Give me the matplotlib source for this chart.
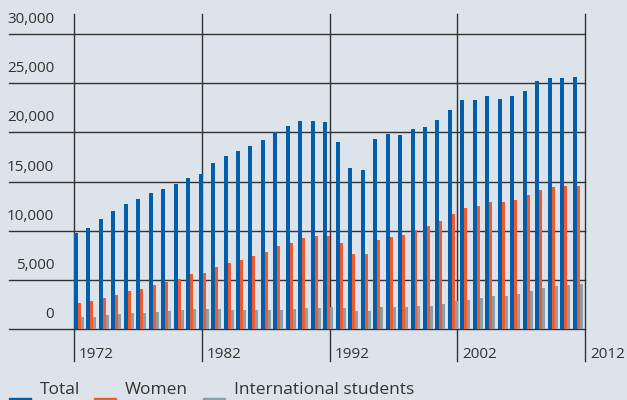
import numpy as np
import matplotlib
import matplotlib.pyplot as plt
from matplotlib.patches import Rectangle

matplotlib.use("agg")
plt.rcParams['font.family'] = ['Open Sans', 'DejaVu Sans']

# Students per year, 1972 - 2012
years = list(range(1972, 2013))
total = [9800, 10280, 11200, 12000, 12720, 13220, 13840, 14240, 14750, 15360,
         15760, 16880, 17590, 18100, 18600, 19220, 20020, 20640, 21140, 21140,
         21040, 19010, 16370, 16170, 19320, 19820, 19720, 20330, 20530, 21240,
         22260, 23280, 23280, 23680, 23380, 23680, 24190, 25200, 25510, 25510,
         25610]
women = [2670, 2870, 3180, 3480, 3890, 4090, 4500, 4800, 5110, 5610,
         5720, 6320, 6730, 7030, 7440, 7850, 8460, 8760, 9270, 9470,
         9470, 8760, 7640, 7640, 9060, 9370, 9570, 10080, 10480, 10990,
         11700, 12310, 12510, 12920, 12920, 13120, 13630, 14140, 14440, 14540,
         14540]
intl = [1250, 1250, 1450, 1550, 1650, 1650, 1760, 1860, 1960, 2060,
        2060, 2060, 1960, 1960, 1960, 1960, 1960, 2060, 2160, 2160,
        2260, 2160, 1860, 1860, 2260, 2260, 2260, 2370, 2370, 2570,
        2870, 2970, 3180, 3380, 3380, 3580, 3890, 4190, 4400, 4500,
        4600]
series_names = ["Total", "Women", "International students"]
colors = ["#005eaa", "#f15a2b", "#8c9fab"]
yticks = [0, 5000, 10000, 15000, 20000, 25000, 30000]
xtick_years = [1972, 1982, 1992, 2002, 2012]

bg = "#dce3ea"
line_col = "#333333"
text_col = "#333333"

fig = plt.figure(figsize=(6.27, 4.0), dpi=100, facecolor=bg)
ax = fig.add_axes([74 / 627, 70.7 / 400, 511 / 627, 295.6 / 400])
ax.set_facecolor(bg)
for s in ax.spines.values():
    s.set_visible(False)
ax.set_xticks([])
ax.set_yticks([])

n = len(years)
x = np.arange(n)
ax.set_xlim(0, n)
ax.set_ylim(0, 30000)

# grid lines reaching past the plot area
for v in yticks:
    ax.plot([-0.127, 1.0], [v, v], transform=ax.get_yaxis_transform(),
            color=line_col, lw=1.0, clip_on=False, zorder=1)
    ax.annotate(f"{v:,}", xy=(-0.039, v), xycoords=ax.get_yaxis_transform(),
                xytext=(0, 5), textcoords="offset points", ha="right", va="bottom",
                fontsize=11, color=text_col)
for yr in xtick_years:
    xp = (yr - years[0]) * n / (xtick_years[-1] - xtick_years[0])
    ax.plot([xp, xp], [-0.107, 1.067], transform=ax.get_xaxis_transform(),
            color=line_col, lw=1.0, clip_on=False, zorder=1)
    ax.annotate(str(yr), xy=(xp, -0.084), xycoords=ax.get_xaxis_transform(),
                xytext=(3.5, 0), textcoords="offset points", ha="left", va="center",
                fontsize=11, color=text_col)

# bars
ax.bar(x, total, width=0.32, align="edge", color=colors[0], zorder=3)
ax.bar(x + 0.32, women, width=0.24, align="edge", color=colors[1], zorder=3)
ax.bar(x + 0.56, intl, width=0.24, align="edge", color=colors[2], zorder=3)

# legend along the bottom edge
leg_x = [9, 94, 203]
for lx, name, c in zip(leg_x, series_names, colors):
    fig.patches.append(Rectangle((lx / 627, -20 / 400), 22 / 627, 22.3 / 400,
                                 transform=fig.transFigure, color=c))
    fig.text((lx + 31) / 627, 1.5 / 400, name, ha="left", va="bottom",
             fontsize=12.5, color=text_col)

fig.savefig("out.png", dpi=100, facecolor=bg)
plt.close()
